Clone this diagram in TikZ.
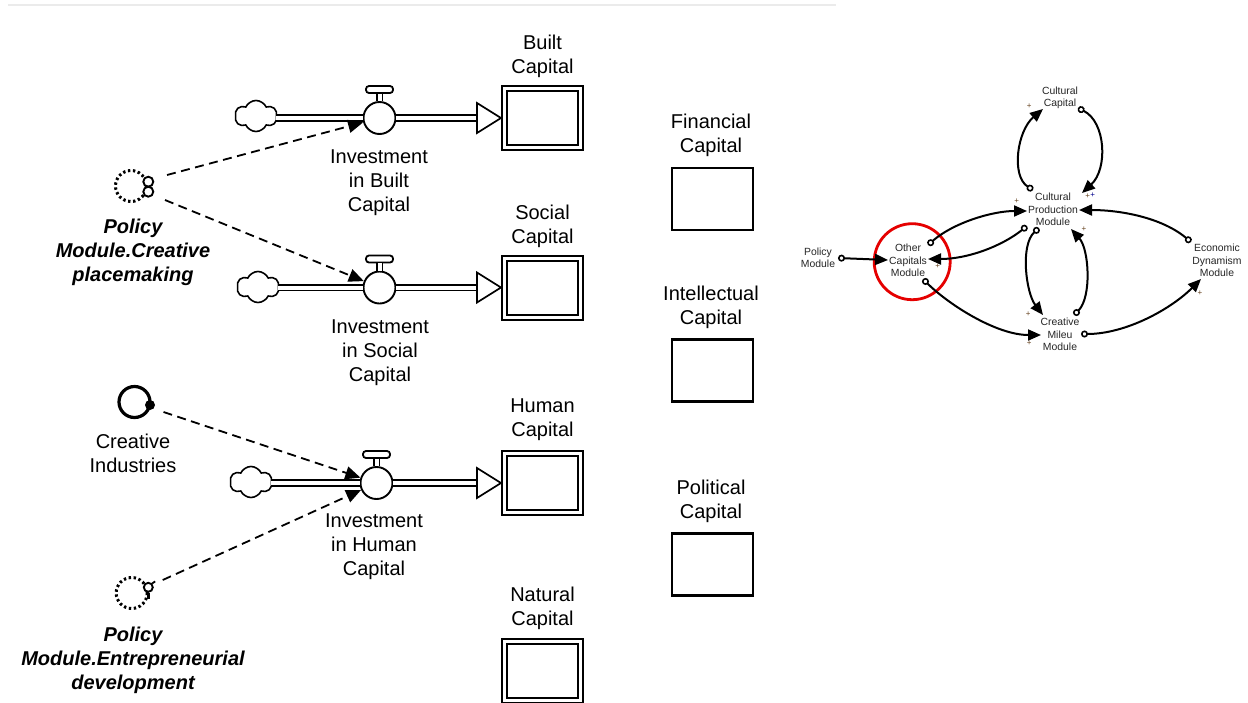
\documentclass[tikz,border=0pt]{standalone}
\usepackage{fontspec}
\setmainfont{Liberation Sans}
\usetikzlibrary{arrows.meta,shapes.symbols}

\begin{document}
\begin{tikzpicture}[x=1pt,y=-1pt,
  lbl/.style={align=center, inner sep=0pt, font=\fontsize{20}{24}\selectfont},
  ghostlbl/.style={align=center, inner sep=0pt, font=\fontsize{20}{24}\selectfont\bfseries\itshape},
  stockbox/.style={draw, double, line width=2pt, double distance=2.6pt, minimum width=76.4pt, minimum height=59.4pt, inner sep=0pt, outer sep=3.3pt},
  capbox/.style={draw, line width=2.2pt, minimum width=81pt, minimum height=62pt, inner sep=0pt, outer sep=1.1pt},
  vlv/.style={draw, circle, line width=1.9pt, fill=white, minimum size=32pt, inner sep=0pt},
  vhandle/.style={draw, rounded corners=3pt, line width=1.8pt, fill=white, minimum width=27pt, minimum height=7pt, inner sep=0pt},
  srccloud/.style={draw, cloud, cloud puffs=6, cloud puff arc=130, cloud ignores aspect, line width=1.6pt, minimum width=42pt, minimum height=31pt, inner sep=0pt, fill=white},
  pipeline/.style={double, line width=1.7pt, double distance=4pt},
  stemline/.style={double, line width=1.6pt, double distance=4pt},
  inhead/.style={draw, line width=1.7pt, fill=white, line join=miter},
  infolink/.style={line width=1.8pt, dash pattern=on 9pt off 5.5pt, -{Triangle[length=15pt,width=13pt]}},
  ghostring/.style={circle, draw, line width=3pt, dash pattern=on 2.4pt off 2.6pt, minimum size=31pt, inner sep=0pt},
  smallring/.style={circle, draw, line width=1.9pt, fill=white, minimum size=10pt, inner sep=0pt},
  mod/.style={align=center, inner sep=1pt, font=\fontsize{10.4}{12.3}\selectfont, text=black!85},
  causal/.style={line width=2pt, {Circle[open,length=7pt,width=7pt,line width=1.6pt]}-{Triangle[length=13pt,width=11pt]}},
  pol/.style={font=\fontsize{8}{8}\selectfont, inner sep=0pt, text=brown!55!black},
]
\path[fill=white, use as bounding box] (0,0) rectangle (1248,702);

% faint rule along the top
\draw[black!8, line width=1.5pt] (8,5) -- (836,5);

% ---------- stocks ----------
\node[stockbox] (built)   at (542.5,118) {};
\node[stockbox] (social)  at (542.5,288) {};
\node[stockbox] (human)   at (542.5,483) {};
\node[stockbox] (natural) at (542.5,671) {};
\node[lbl] (builtlbl)   at (542.5,56)  {Built\\Capital};
\node[lbl] (sociallbl)  at (542.5,226) {Social\\Capital};
\node[lbl] (humanlbl)   at (542.5,420) {Human\\Capital};
\node[lbl] (naturallbl) at (542.5,608) {Natural\\Capital};

% ---------- other capitals ----------
\node[capbox] (financial)    at (712.5,199)   {};
\node[capbox] (intellectual) at (712.5,370.5) {};
\node[capbox] (political)    at (712.5,564.5) {};
\node[lbl] (financiallbl)    at (711,135) {Financial\\Capital};
\node[lbl] (intellectuallbl) at (711,307) {Intellectual\\Capital};
\node[lbl] (politicallbl)    at (711,501) {Political\\Capital};

% ---------- flows: cloud, pipe, valve, inflow head ----------
\node[srccloud] (cb) at (256,116) {};
\node[srccloud] (cs) at (258,287) {};
\node[srccloud] (ch) at (251,482) {};

\node[vlv] (vb) at (379.5,118) {};
\node[vlv] (vs) at (379.5,287.5) {};
\node[vlv] (vh) at (376.5,483) {};
\node[vhandle] (hb) at (379.5,89.5) {};
\node[vhandle] (hs) at (379.5,259) {};
\node[vhandle] (hh) at (376.5,454.5) {};
\draw[stemline] (hb.south) -- (vb.north);
\draw[stemline] (hs.south) -- (vs.north);
\draw[stemline] (hh.south) -- (vh.north);

\coordinate (tb) at (vb.east -| built.west);
\coordinate (ts) at (vs.east -| social.west);
\coordinate (th) at (vh.east -| human.west);

\draw[pipeline] ([xshift=-1pt]cb.east |- vb.center) -- (vb.west);
\draw[pipeline] (vb.east) -- ([xshift=-23pt]tb);
\draw[inhead] ([shift={(-24,-15)}]tb) -- (tb) -- ([shift={(-24,15)}]tb) -- cycle;

\draw[pipeline] ([xshift=-1pt]cs.east |- vs.center) -- (vs.west);
\draw[pipeline] (vs.east) -- ([xshift=-23pt]ts);
\draw[inhead] ([shift={(-24,-15)}]ts) -- (ts) -- ([shift={(-24,15)}]ts) -- cycle;

\draw[pipeline] ([xshift=-1pt]ch.east |- vh.center) -- (vh.west);
\draw[pipeline] (vh.east) -- ([xshift=-23pt]th);
\draw[inhead] ([shift={(-24,-15)}]th) -- (th) -- ([shift={(-24,15)}]th) -- cycle;

\node[lbl] (ibl) at (379,183) {Investment\\in Built\\Capital};
\node[lbl] (isl) at (380,353) {Investment\\in Social\\Capital};
\node[lbl] (ihl) at (374,547) {Investment\\in Human\\Capital};

% ---------- driving variables ----------
\node[ghostring] (pm1) at (131,186) {};
\node[smallring] (pm1a) at (148.3,181.7) {};
\node[smallring] (pm1b) at (148.3,191.7) {};
\node[ghostlbl] (pm1lbl) at (133,252) {Policy\\Module.Creative\\placemaking};

\node[circle, draw, line width=3.2pt, minimum size=31pt, inner sep=0pt] (ci) at (134.5,402) {};
\node[circle, fill, minimum size=10pt, inner sep=0pt] (cidot) at (150,405) {};
\node[lbl] (cilbl) at (133,453) {Creative\\Industries};

\node[ghostring] (pm2) at (131.7,593) {};
\node[smallring, minimum size=9pt] (pm2a) at (148.3,587.3) {};
\draw[line width=2.4pt] (pm2a.south) -- ++(0,6);
\draw[line width=1.8pt] (pm2a.north east) -- ++(3,-2);
\node[ghostlbl] (pm2lbl) at (133,660) {Policy\\Module.Entrepreneurial\\development};

% ---------- information links ----------
\draw[infolink] ([shift={(36,-11)}]pm1.center) -- (vb);
\draw[infolink] ([shift={(34,14)}]pm1.center) -- (vs);
\draw[infolink] ([shift={(29,10)}]ci.center) -- (vh);
\draw[infolink] ([shift={(31,-13)}]pm2.center) -- (vh);

% ---------- module map ----------
\node[mod] (cc) at (1060,97.7)  {Cultural\\Capital};
\node[mod] (cp) at (1053,209.5) {Cultural\\Production\\Module};
\node[mod] (oc) at (908,260.5)  {Other\\Capitals\\Module};
\node[mod] (pm) at (818,258)    {Policy\\Module};
\node[mod] (ed) at (1217,260.5) {Economic\\Dynamism\\Module};
\node[mod] (cm) at (1060,334.5) {Creative\\Mileu\\Module};
\node[draw=red!90!black, line width=2.8pt, circle, minimum size=76pt, inner sep=0pt] (focus) at (912.2,261.7) {};

\draw[causal] ([shift={(18,10.3)}]cc.center) .. controls +(28,14) and +(26,-24) .. ([shift={(29,-16.5)}]cp.center);
\draw[causal] ([shift={(-20,-19.5)}]cp.center) .. controls +(-22,-14) and +(-26,22) .. ([shift={(-17,11.3)}]cc.center);
\draw[causal] ([shift={(20,-15.5)}]oc.center) .. controls +(25,-22) and +(-35,0) .. ([shift={(-26,1.5)}]cp.center);
\draw[causal] ([shift={(-26,16.5)}]cp.center) .. controls +(-25,20) and +(40,0) .. ([shift={(20,-1.5)}]oc.center);
\draw[causal] ([shift={(20,0)}]pm.center) -- ([shift={(-20,-0.5)}]oc.center);
\draw[causal] ([shift={(15,18.5)}]oc.center) .. controls +(25,25) and +(-45,0) .. ([shift={(-19,0.5)}]cm.center);
\draw[causal] ([shift={(-14,18.5)}]cp.center) .. controls +(-19,17) and +(-17,-22) .. ([shift={(-17,-19.5)}]cm.center);
\draw[causal] ([shift={(14,-19.5)}]cm.center) .. controls +(18,-18) and +(18,20) .. ([shift={(18,19.5)}]cp.center);
\draw[causal] ([shift={(-26,-18.5)}]ed.center) .. controls +(-30,-25) and +(40,0) .. ([shift={(26,0.5)}]cp.center);
\draw[causal] ([shift={(21,-0.5)}]cm.center) .. controls +(45,0) and +(-30,30) .. ([shift={(-16,18.5)}]ed.center);

% polarity marks
\node[pol] (s1) at (1029.3,105.7) {+};
\node[pol] (s2) at (1087.7,196.5) {+};
\node[pol, text=blue!55!black] (s3) at (1092.7,195.5) {+};
\node[pol] (s4) at (1016.7,200.7) {+};
\node[pol] (s5) at (1084,229.3) {+};
\node[pol] (s6) at (937.7,266) {+};
\node[pol] (s7) at (1028.3,314) {+};
\node[pol] (s8) at (1029.3,343.3) {+};
\node[pol] (s9) at (1200,292.7) {+};
\end{tikzpicture}
\end{document}
